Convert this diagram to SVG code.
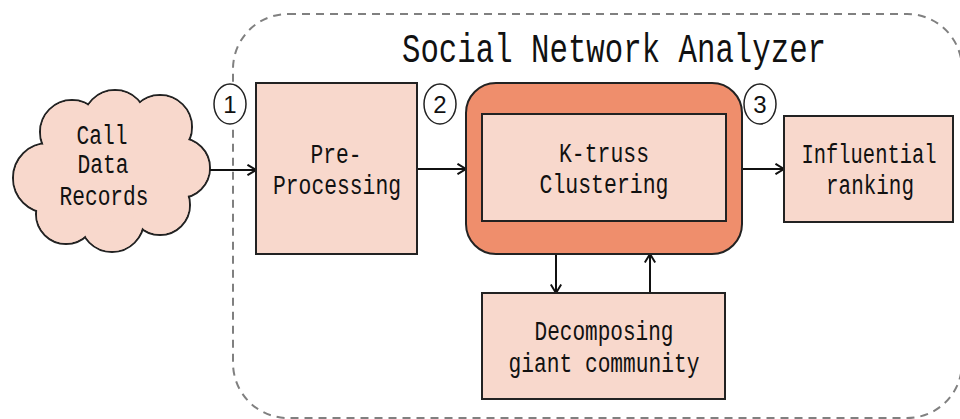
<svg xmlns="http://www.w3.org/2000/svg" width="960" height="419" viewBox="0 0 960 419">
  <style>
    .lbl { font-family: "Liberation Mono", "DejaVu Sans Mono", monospace; font-size: 27px; fill: #111; text-anchor: middle; }
    .title { font-family: "Liberation Mono", "DejaVu Sans Mono", monospace; font-size: 40px; fill: #111; text-anchor: middle; }
    .num { font-family: "Liberation Sans", "DejaVu Sans", sans-serif; font-size: 24px; fill: #111; text-anchor: middle; }
    .box { fill: #F8D8CC; stroke: #222; stroke-width: 2; }
    .badge { fill: #fff; stroke: #222; stroke-width: 1.5; }
    .link { fill: none; stroke: #111; stroke-width: 2; marker-end: url(#arrow); }
  </style>
  <defs>
    <marker id="arrow" viewBox="0 0 10 12" refX="9.5" refY="6" markerWidth="10" markerHeight="12" markerUnits="userSpaceOnUse" orient="auto">
      <path d="M1,0.8 L9.5,6 L1,11.2" fill="none" stroke="#111" stroke-width="2"/>
    </marker>
  </defs>

  <rect width="960" height="419" fill="#fff"/>

  <!-- analyzer boundary -->
  <g id="analyzer">
    <rect x="233" y="14" width="729" height="404" rx="55" ry="55" fill="none" stroke="#808080" stroke-width="2" stroke-dasharray="8 6"/>
    <text class="title" x="614" y="62" textLength="424" lengthAdjust="spacingAndGlyphs">Social Network Analyzer</text>
  </g>

  <!-- cloud source -->
  <g id="cdr">
    <g fill="#F8D8CC" stroke="#222" stroke-width="2">
      <circle cx="48" cy="178" r="35"/>
      <circle cx="72" cy="132" r="32"/>
      <circle cx="115" cy="122" r="32"/>
      <circle cx="160" cy="127" r="32"/>
      <circle cx="180" cy="168" r="30"/>
      <circle cx="160" cy="205" r="30"/>
      <circle cx="112" cy="220" r="32"/>
      <circle cx="66" cy="214" r="30"/>
    </g>
    <g fill="#F8D8CC">
      <circle cx="48" cy="178" r="34"/>
      <circle cx="72" cy="132" r="31"/>
      <circle cx="115" cy="122" r="31"/>
      <circle cx="160" cy="127" r="31"/>
      <circle cx="180" cy="168" r="29"/>
      <circle cx="160" cy="205" r="29"/>
      <circle cx="112" cy="220" r="31"/>
      <circle cx="66" cy="214" r="29"/>
      <circle cx="112" cy="172" r="50"/>
    </g>
    <text class="lbl" x="102" y="144" textLength="51" lengthAdjust="spacingAndGlyphs">Call</text>
    <text class="lbl" x="103" y="173" textLength="51" lengthAdjust="spacingAndGlyphs">Data</text>
    <text class="lbl" x="104" y="205" textLength="89" lengthAdjust="spacingAndGlyphs">Records</text>
  </g>

  <!-- connectors -->
  <g id="connectors">
    <line class="link" x1="210" y1="170" x2="256" y2="170"/>
    <line class="link" x1="417" y1="169" x2="466" y2="169"/>
    <line class="link" x1="742" y1="169" x2="784" y2="169"/>
    <line class="link" x1="556" y1="254" x2="556" y2="293"/>
    <line class="link" x1="650" y1="293" x2="650" y2="254"/>
  </g>

  <g id="preprocessing">
    <rect class="box" x="256" y="83" width="161" height="171"/>
    <text class="lbl" x="336" y="163" textLength="51" lengthAdjust="spacingAndGlyphs">Pre-</text>
    <text class="lbl" x="337" y="194" textLength="128" lengthAdjust="spacingAndGlyphs">Processing</text>
  </g>

  <g id="ktruss">
    <rect x="466" y="83" width="276" height="171" rx="30" ry="30" fill="#EF8E6C" stroke="#222" stroke-width="2"/>
    <rect class="box" x="482" y="114" width="244" height="107"/>
    <text class="lbl" x="604" y="162" textLength="90" lengthAdjust="spacingAndGlyphs">K-truss</text>
    <text class="lbl" x="604" y="193" textLength="129" lengthAdjust="spacingAndGlyphs">Clustering</text>
  </g>

  <g id="influential">
    <rect class="box" x="784" y="116" width="169" height="106"/>
    <text class="lbl" x="869" y="163" textLength="135" lengthAdjust="spacingAndGlyphs">Influential</text>
    <text class="lbl" x="870" y="194" textLength="88" lengthAdjust="spacingAndGlyphs">ranking</text>
  </g>

  <g id="decomposing">
    <rect class="box" x="482" y="293" width="243" height="106"/>
    <text class="lbl" x="604" y="340" textLength="139" lengthAdjust="spacingAndGlyphs">Decomposing</text>
    <text class="lbl" x="604" y="372" textLength="191" lengthAdjust="spacingAndGlyphs">giant community</text>
  </g>

  <!-- step badges -->
  <g id="step1">
    <ellipse class="badge" cx="230" cy="104" rx="16" ry="20"/>
    <text class="num" x="230" y="113">1</text>
  </g>
  <g id="step2">
    <ellipse class="badge" cx="440" cy="104" rx="16" ry="20"/>
    <text class="num" x="440" y="113">2</text>
  </g>
  <g id="step3">
    <ellipse class="badge" cx="760" cy="104" rx="16" ry="20"/>
    <text class="num" x="760" y="113">3</text>
  </g>
</svg>
